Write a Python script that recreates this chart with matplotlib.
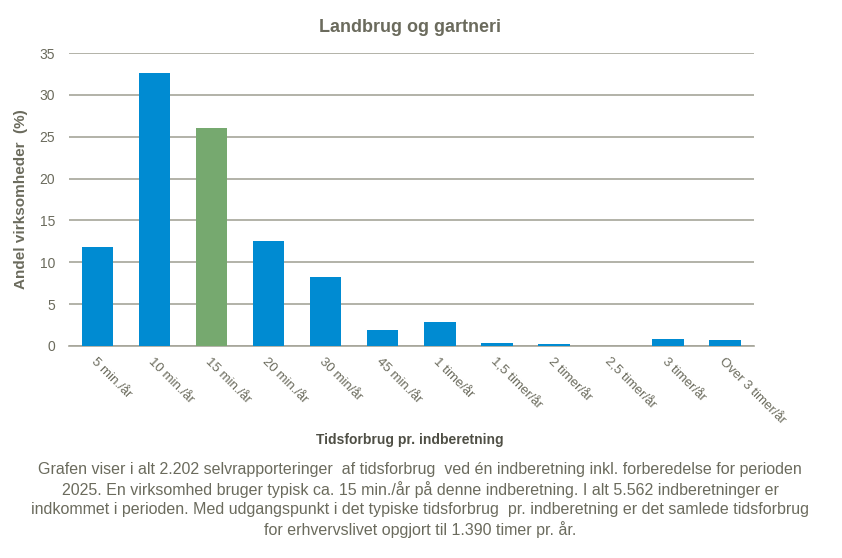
import matplotlib
matplotlib.use("Agg")
import matplotlib.pyplot as plt

# data
categories = ["5 min./år", "10 min./år", "15 min./år", "20 min./år", "30 min/år",
              "45 min./år", "1 time/år", "1,5 timer/år", "2 timer/år", "2,5 timer/år",
              "3 timer/år", "Over 3 timer/år"]
shares = [11.8, 32.6, 26.0, 12.5, 8.2, 1.9, 2.9, 0.36, 0.25, 0.0, 0.85, 0.7]
highlight = "15 min./år"

title = "Landbrug og gartneri"
ylabel = "Andel virksomheder  (%)"
xlabel = "Tidsforbrug pr. indberetning"
note = ("Grafen viser i alt 2.202 selvrapporteringer  af tidsforbrug  ved én indberetning inkl. forberedelse for perioden\n"
        "2025. En virksomhed bruger typisk ca. 15 min./år på denne indberetning. I alt 5.562 indberetninger er\n"
        "indkommet i perioden. Med udgangspunkt i det typiske tidsforbrug  pr. indberetning er det samlede tidsforbrug\n"
        "for erhvervslivet opgjort til 1.390 timer pr. år.")

blue = "#008BD2"
green = "#76A96F"
grid_col = "#A6A59A"
text_col = "#6B6B5D"

plt.rcParams['font.family'] = ['Liberation Sans', 'DejaVu Sans']

fig = plt.figure(figsize=(8.42, 5.58), dpi=100)
ax = fig.add_axes([0.082, 0.380, 0.813, 0.525])

colors = [green if c == highlight else blue for c in categories]
x = range(len(categories))
ax.bar(x, shares, width=0.55, color=colors, zorder=3)

ax.set_xlim(-0.5, len(categories) - 0.5)
ax.set_ylim(0, 35)
ax.set_yticks(range(0, 36, 5))
ax.yaxis.grid(True, color=grid_col, linewidth=1.2, zorder=0)
ax.tick_params(axis='y', length=0, labelsize=10, colors=text_col, pad=10)
ax.tick_params(axis='x', length=0, labelsize=9.5, colors=text_col, pad=7)
ax.set_xticks(list(x))
ax.set_xticklabels(categories, rotation=-45, ha='left', rotation_mode='anchor')
for side in ['top', 'right', 'left']:
    ax.spines[side].set_visible(False)
ax.spines['bottom'].set_color(grid_col)
ax.spines['bottom'].set_linewidth(1.2)

ax.set_ylabel(ylabel, fontsize=11, fontweight='bold', color=text_col, labelpad=8)

fig.text(0.487, 0.951, title, ha='center', va='center', fontsize=13,
         fontweight='bold', color=text_col)
fig.text(0.487, 0.212, xlabel, ha='center', va='center', fontsize=10,
         fontweight='bold', color="#4F4F45")
fig.text(0.499, 0.104, note, ha='center', va='center', fontsize=11.5,
         color=text_col, linespacing=1.28)

fig.savefig("out.png", dpi=100)
